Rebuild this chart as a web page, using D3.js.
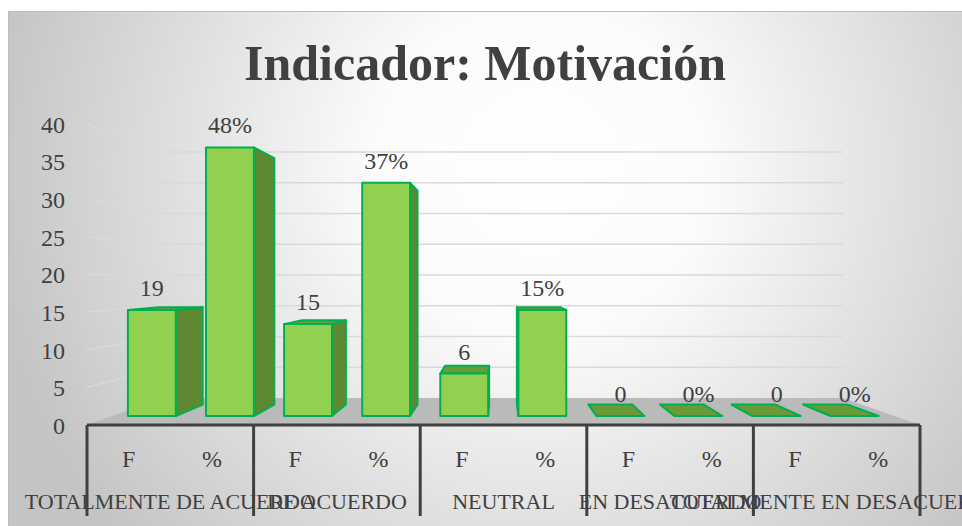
<!DOCTYPE html>
<html>
<head>
<meta charset="utf-8">
<script src="https://cdn.jsdelivr.net/npm/d3@7"></script>
<style>
  body { margin: 0; background: #ffffff; }
  svg text { font-family: "Liberation Serif", "Times New Roman", serif; fill: #404040; }
</style>
</head>
<body>
<svg id="chart" width="962" height="526"></svg>
<script>
// categories and values
var groups = ["TOTALMENTE DE ACUERDO", "DE ACUERDO", "NEUTRAL", "EN DESACUERDO", "TOTALMENTE EN DESACUERDO"];
var subLabels = ["F", "%"];
var freqLabels = ["19", "15", "6", "0", "0"];
var pctLabels = ["48%", "37%", "15%", "0%", "0%"];
// heights of the bars as plotted (axis units)
var freqHeights = [15, 13, 6, 0, 0];
var pctHeights = [38, 33, 15, 0, 0];
var yTicks = [0, 5, 10, 15, 20, 25, 30, 35, 40];

var svg = d3.select("#chart");

// background
var defs = svg.append("defs");
var grad = defs.append("radialGradient")
  .attr("id", "bg")
  .attr("gradientUnits", "userSpaceOnUse")
  .attr("cx", 540).attr("cy", 170).attr("r", 560);
grad.append("stop").attr("offset", "0").attr("stop-color", "#ffffff");
grad.append("stop").attr("offset", "0.3").attr("stop-color", "#fbfbfb");
grad.append("stop").attr("offset", "1").attr("stop-color", "#c4c4c4");

svg.append("rect")
  .attr("x", 8.5).attr("y", 11.5)
  .attr("width", 970).attr("height", 530)
  .attr("fill", "url(#bg)")
  .attr("stroke", "#bdbdbd")
  .attr("stroke-width", 1);

// title
svg.append("text")
  .attr("x", 485).attr("y", 80)
  .attr("text-anchor", "middle")
  .style("font-size", "50px")
  .style("font-weight", "bold")
  .text("Indicador: Motivación");

// perspective set-up
var vp = [500, 278];
var sWall = 0.8164, sFront = 0.9388, sBack = 0.8608;
function P(X, Y, s) {
  return [vp[0] + (X - vp[0]) * s, vp[1] + (Y - vp[1]) * s];
}

var left = 87, right = 920;
var y = d3.scaleLinear().domain([0, 40]).range([425, 123.8]);

var keys = [];
groups.forEach(function(g, i) {
  subLabels.forEach(function(s) { keys.push(i + "|" + s); });
});
var x = d3.scaleBand().domain(keys).range([left, right]).paddingInner(0.387).paddingOuter(0.2);
var xGroup = d3.scaleBand().domain(groups).range([left, right]);

var bars = [];
groups.forEach(function(g, i) {
  bars.push({key: i + "|F", h: freqHeights[i], label: freqLabels[i]});
  bars.push({key: i + "|%", h: pctHeights[i], label: pctLabels[i]});
});

// floor
var floorPts = [P(left, y(0), 1), P(right, y(0), 1), P(right, y(0), sWall), P(left, y(0), sWall)];
svg.append("polygon")
  .attr("points", floorPts.map(function(p) { return p.join(","); }).join(" "))
  .attr("fill", "#bababa");

// gridlines: side wall + back wall
var grid = svg.append("g").attr("stroke", "#d9d9d9").attr("stroke-width", 1.5).attr("fill", "none");
yTicks.filter(function(t) { return t > 0; }).forEach(function(t) {
  var a = P(left, y(t), 1), b = P(left, y(t), sWall), c = P(right, y(t), sWall);
  grid.append("polyline").attr("points", [a, b, c].map(function(p) { return p.join(","); }).join(" "));
});

// y tick labels
svg.append("g").selectAll("text")
  .data(yTicks)
  .enter().append("text")
  .attr("x", 65)
  .attr("y", function(d) { return y(d) + 9; })
  .attr("text-anchor", "end")
  .style("font-size", "24px")
  .text(function(d) { return d; });

// bars
var barG = svg.append("g")
  .attr("stroke", "#00b050")
  .attr("stroke-width", 2)
  .attr("stroke-linejoin", "round");

function poly(pts, fill) {
  barG.append("polygon")
    .attr("points", pts.map(function(p) { return p.join(","); }).join(" "))
    .attr("fill", fill);
}

bars.forEach(function(d) {
  var X0 = x(d.key), X1 = X0 + x.bandwidth();
  var Y0 = y(0), Y1 = y(d.h);
  if (X1 < vp[0]) {
    poly([P(X1, Y1, sFront), P(X1, Y1, sBack), P(X1, Y0, sBack), P(X1, Y0, sFront)], "#5f8832");
  }
  if (X0 > vp[0]) {
    poly([P(X0, Y1, sFront), P(X0, Y1, sBack), P(X0, Y0, sBack), P(X0, Y0, sFront)], "#5f8832");
  }
  if (Y1 > vp[1]) {
    poly([P(X0, Y1, sFront), P(X1, Y1, sFront), P(X1, Y1, sBack), P(X0, Y1, sBack)], "#6b9a39");
  }
  if (d.h > 0) {
    poly([P(X0, Y1, sFront), P(X1, Y1, sFront), P(X1, Y0, sFront), P(X0, Y0, sFront)], "#92d050");
  }
});

// data labels
svg.append("g").selectAll("text")
  .data(bars)
  .enter().append("text")
  .attr("x", function(d) {
    var X0 = x(d.key), X1 = X0 + x.bandwidth();
    return (P(X0, 0, sFront)[0] + P(X1, 0, sFront)[0]) / 2;
  })
  .attr("y", function(d) { return P(0, y(d.h), sFront)[1] - 14; })
  .attr("text-anchor", "middle")
  .style("font-size", "24px")
  .text(function(d) { return d.label; });

// category axis
var axisG = svg.append("g").attr("stroke", "#404040").attr("stroke-width", 3).attr("fill", "none");
axisG.append("line")
  .attr("x1", left).attr("x2", right)
  .attr("y1", y(0)).attr("y2", y(0));
var bounds = groups.map(function(g) { return xGroup(g); }).concat([right]);
axisG.selectAll("line.div")
  .data(bounds)
  .enter().append("line")
  .attr("class", "div")
  .attr("x1", function(d) { return d; }).attr("x2", function(d) { return d; })
  .attr("y1", y(0)).attr("y2", 516);

svg.append("g").selectAll("text")
  .data(keys)
  .enter().append("text")
  .attr("x", function(d) {
    var i = +d.split("|")[0], s = d.split("|")[1];
    return xGroup(groups[i]) + xGroup.bandwidth() * (s === "F" ? 0.25 : 0.75);
  })
  .attr("y", 467)
  .attr("text-anchor", "middle")
  .style("font-size", "24px")
  .text(function(d) { return d.split("|")[1]; });

svg.append("g").selectAll("text")
  .data(groups)
  .enter().append("text")
  .attr("x", function(d) { return xGroup(d) + xGroup.bandwidth() / 2; })
  .attr("y", 509)
  .attr("text-anchor", "middle")
  .style("font-size", "22px")
  .text(function(d) { return d; });
</script>
</body>
</html>
